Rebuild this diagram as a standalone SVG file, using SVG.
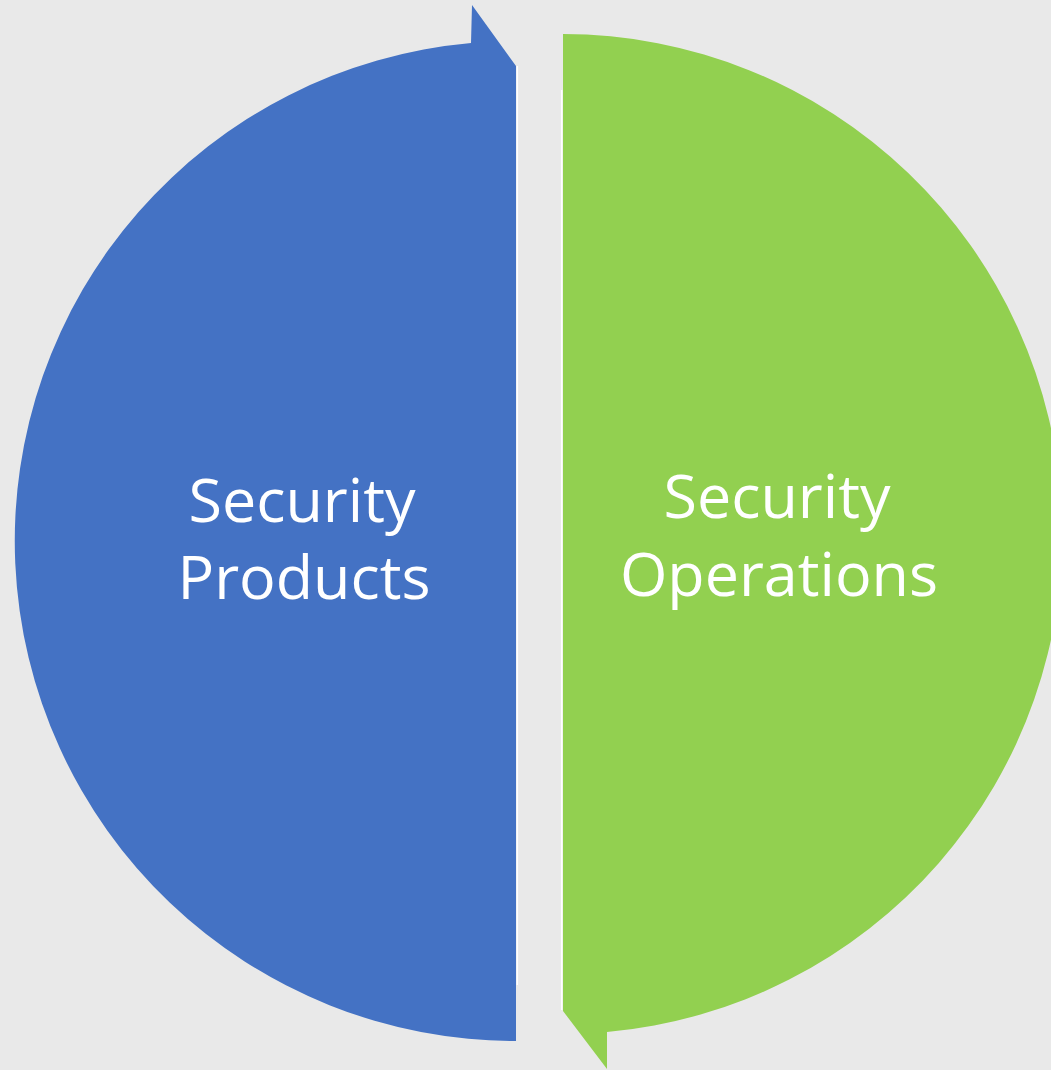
<svg xmlns="http://www.w3.org/2000/svg" width="1051" height="1070" viewBox="0 0 1051 1070">
<style>
.lbl{font-family:"Open Sans","Liberation Sans",sans-serif;font-size:61px;fill:#ffffff;text-anchor:middle}
.edge{stroke:#ffffff;stroke-width:1.5;fill:none}
</style>
<rect width="1051" height="1070" fill="#e9e9e9"/>
<g id="products">
<path d="M516,1041 A501,500 0 0 1 471,43 L472,5 L516,66 Z" fill="#4472c4"/>
<line class="edge" x1="517.3" y1="66" x2="517.3" y2="985"/>
<text class="lbl" x="302" y="522">Security</text>
<text class="lbl" x="304" y="599">Products</text>
</g>
<g id="operations">
<path d="M563,34 A500,500 0 0 1 607,1032 L607,1069 L563,1011 Z" fill="#92d050"/>
<line class="edge" x1="561.7" y1="90" x2="561.7" y2="1010"/>
<text class="lbl" x="777" y="518">Security</text>
<text class="lbl" x="779" y="596">Operations</text>
</g>
<g id="connectors"></g>
</svg>
